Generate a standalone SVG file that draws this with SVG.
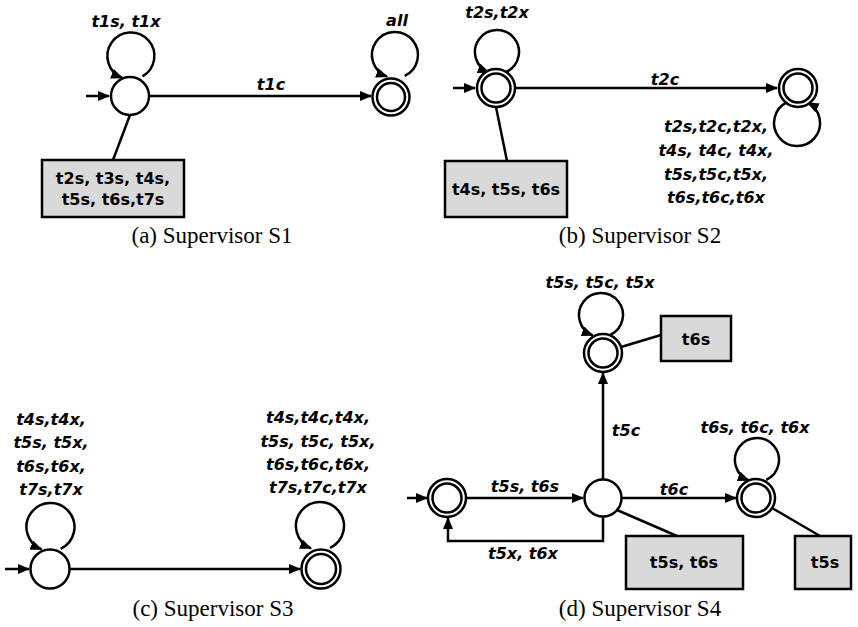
<svg xmlns="http://www.w3.org/2000/svg" width="858" height="627" viewBox="0 0 858 627">
<style>
.s{fill:#fff;stroke:#000;stroke-width:2.5}
.e{fill:none;stroke:#000;stroke-width:2.5}
.box{fill:#d9d9d9;stroke:#000;stroke-width:2.5}
.lbl{font-family:"DejaVu Sans",sans-serif;font-weight:bold;font-style:italic;font-size:16px;text-anchor:middle}
.bt{font-family:"DejaVu Sans",sans-serif;font-weight:bold;font-size:16px;text-anchor:middle}
.cap{font-family:"Liberation Serif",serif;font-size:23px;text-anchor:middle}
</style>
<defs>
<marker id="ah" markerUnits="userSpaceOnUse" markerWidth="12" markerHeight="10" refX="11" refY="5" orient="auto"><path d="M0,0 L12,5 L0,10 z" fill="#000"/></marker>
</defs>
<rect width="858" height="627" fill="#fff"/>
<g id="connectors">
<!-- (a) -->
<path class="e" d="M86,96 L109,96" marker-end="url(#ah)"/>
<path class="e" d="M142.5,76.4 A23.5,23.5 0 1 0 122.2,77.8" marker-end="url(#ah)"/>
<path class="e" d="M149,96 L371,96" marker-end="url(#ah)"/>
<path class="e" d="M404.7,75.8 A23,23 0 1 0 387.1,76.6" marker-end="url(#ah)"/>
<path class="e" d="M130,115 L113,160"/>
<!-- (b) -->
<path class="e" d="M453,88 L475,88" marker-end="url(#ah)"/>
<path class="e" d="M506.3,71.9 A22,22 0 1 0 488.8,72.4" marker-end="url(#ah)"/>
<path class="e" d="M515,88 L777,88" marker-end="url(#ah)"/>
<path class="e" d="M787.3,102.2 A23,23 0 1 0 807.8,102.7" marker-end="url(#ah)"/>
<path class="e" d="M496,107 L507,161"/>
<!-- (c) -->
<path class="e" d="M5,569 L29,569" marker-end="url(#ah)"/>
<path class="e" d="M60.6,548.8 A24,24 0 1 0 41.5,549.3" marker-end="url(#ah)"/>
<path class="e" d="M70,569 L300,569" marker-end="url(#ah)"/>
<path class="e" d="M330.1,547.8 A24,24 0 1 0 311,548.3" marker-end="url(#ah)"/>
<!-- (d) -->
<path class="e" d="M407,498 L427,498" marker-end="url(#ah)"/>
<path class="e" d="M466,498 L583,498" marker-end="url(#ah)"/>
<path class="e" d="M603,517 L603,541 L448,541 L448,518" marker-end="url(#ah)"/>
<path class="e" d="M603,479 L603,373" marker-end="url(#ah)"/>
<path class="e" d="M610.3,334.9 A22,22 0 1 0 592.8,335.4" marker-end="url(#ah)"/>
<path class="e" d="M621,347 L661,335"/>
<path class="e" d="M621,498 L736,498" marker-end="url(#ah)"/>
<path class="e" d="M766.3,479.9 A22,22 0 1 0 748.8,480.4" marker-end="url(#ah)"/>
<path class="e" d="M772,508 L820,536"/>
<path class="e" d="M617,510 L677,536"/>
</g>
<g id="labels">
<text class="lbl" x="126" y="26.5">t1s, t1x</text>
<text class="lbl" x="397" y="26">all</text>
<text class="lbl" x="271" y="90">t1c</text>
<text class="lbl" x="497" y="18">t2s,t2x</text>
<text class="lbl" x="665" y="84.5">t2c</text>
<text class="lbl" x="716" y="132">t2s,t2c,t2x,</text>
<text class="lbl" x="716" y="156">t4s, t4c, t4x,</text>
<text class="lbl" x="716" y="180">t5s,t5c,t5x,</text>
<text class="lbl" x="716" y="203">t6s,t6c,t6x</text>
<text class="lbl" x="51" y="425">t4s,t4x,</text>
<text class="lbl" x="51" y="448">t5s, t5x,</text>
<text class="lbl" x="51" y="472">t6s,t6x,</text>
<text class="lbl" x="51" y="495">t7s,t7x</text>
<text class="lbl" x="318" y="423">t4s,t4c,t4x,</text>
<text class="lbl" x="318" y="447">t5s, t5c, t5x,</text>
<text class="lbl" x="318" y="470">t6s,t6c,t6x,</text>
<text class="lbl" x="318" y="493">t7s,t7c,t7x</text>
<text class="lbl" x="600" y="288">t5s, t5c, t5x</text>
<text class="lbl" x="626" y="436">t5c</text>
<text class="lbl" x="525" y="492">t5s, t6s</text>
<text class="lbl" x="523" y="559">t5x, t6x</text>
<text class="lbl" x="674" y="495">t6c</text>
<text class="lbl" x="755" y="433">t6s, t6c, t6x</text>
</g>
<g id="a_s0"><circle class="s" cx="130" cy="96" r="19"/></g>
<g id="a_s1"><circle class="s" cx="391" cy="97" r="18.5"/><circle class="s" cx="391" cy="97" r="14" stroke-width="2"/></g>
<g id="a_box"><rect class="box" x="42" y="160" width="142" height="57"/><text class="bt" x="113" y="184">t2s, t3s, t4s,</text><text class="bt" x="113" y="205">t5s, t6s,t7s</text></g>
<g id="b_s0"><circle class="s" cx="496" cy="88" r="19"/><circle class="s" cx="496" cy="88" r="14.5" stroke-width="2"/></g>
<g id="b_s1"><circle class="s" cx="798" cy="88" r="19"/><circle class="s" cx="798" cy="88" r="14.5" stroke-width="2"/></g>
<g id="b_box"><rect class="box" x="445" y="161" width="122" height="56"/><text class="bt" x="506" y="195">t4s, t5s, t6s</text></g>
<g id="c_s0"><circle class="s" cx="50" cy="569" r="19.5"/></g>
<g id="c_s1"><circle class="s" cx="321" cy="569" r="19.5"/><circle class="s" cx="321" cy="569" r="15" stroke-width="2"/></g>
<g id="d_s0"><circle class="s" cx="447" cy="498" r="19"/><circle class="s" cx="447" cy="498" r="14.5" stroke-width="2"/></g>
<g id="d_s1"><circle class="s" cx="603" cy="498" r="18.5"/></g>
<g id="d_s2"><circle class="s" cx="603" cy="353" r="19"/><circle class="s" cx="603" cy="353" r="14.5" stroke-width="2"/></g>
<g id="d_s3"><circle class="s" cx="756" cy="498" r="19"/><circle class="s" cx="756" cy="498" r="14.5" stroke-width="2"/></g>
<g id="d_box1"><rect class="box" x="661" y="316" width="70" height="45"/><text class="bt" x="696" y="345">t6s</text></g>
<g id="d_box2"><rect class="box" x="626" y="536" width="117" height="53"/><text class="bt" x="684" y="568">t5s, t6s</text></g>
<g id="d_box3"><rect class="box" x="795" y="536" width="56" height="53"/><text class="bt" x="825" y="568">t5s</text></g>
<g id="captions">
<text class="cap" x="212" y="243">(a) Supervisor S1</text>
<text class="cap" x="640" y="243">(b) Supervisor S2</text>
<text class="cap" x="213" y="616">(c) Supervisor S3</text>
<text class="cap" x="640" y="616">(d) Supervisor S4</text>
</g>
</svg>
